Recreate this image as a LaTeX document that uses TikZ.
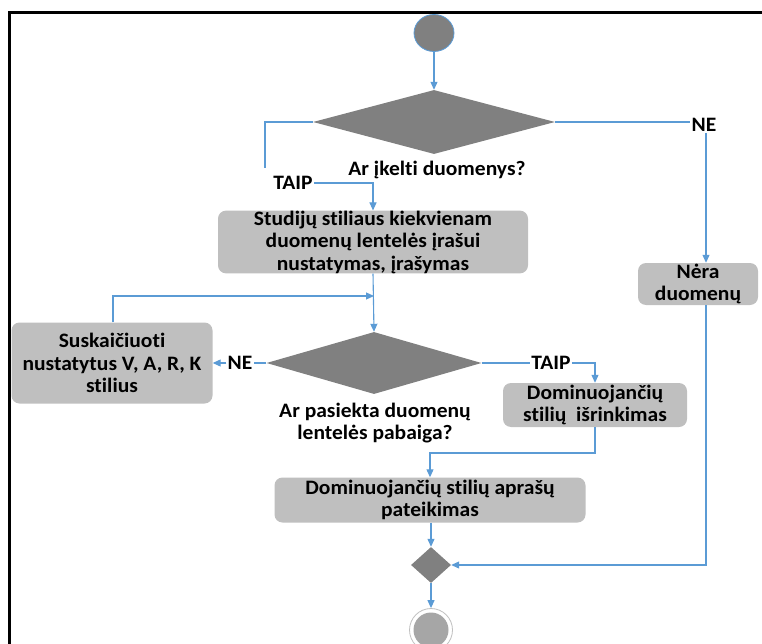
\documentclass[tikz,border=0pt]{standalone}
\usepackage{fontspec}
\setmainfont{Carlito}[FakeStretch=1.05, Ligatures=NoCommon]
\usetikzlibrary{shapes.geometric,arrows.meta}
\definecolor{flow}{HTML}{5B9BD5}
\definecolor{boxgray}{HTML}{BFBFBF}
\definecolor{darkgray}{HTML}{808080}
\definecolor{endgray}{HTML}{A6A6A6}
\begin{document}
\begin{tikzpicture}[x=1pt,y=-1pt,
  every node/.style={font=\fontsize{20.5}{22.5}\selectfont\bfseries, inner sep=0pt, align=center},
  actbox/.style={rectangle, rounded corners=8pt, fill=boxgray},
  decision/.style={diamond, fill=darkgray},
  lbl/.style={fill=white, inner sep=1pt},
  conn/.style={draw=flow, line width=1.1pt},
  arr/.style={conn, -{Triangle[length=8pt,width=7pt]}}
]
\useasboundingbox (0,0) rectangle (762,644);

% frame
\draw[line width=3pt] (9,644) -- (9,13) -- (762,13);

% nodes
\node[ellipse, fill=darkgray, draw=flow, line width=0.8pt, minimum width=40pt, minimum height=37pt] (start) at (434,33) {};
\node[decision, minimum width=242pt, minimum height=64pt] (d1) at (434,122) {};
\node (q1) at (437,170) {Ar įkelti duomenys?};
\node[lbl] (taip1) at (293,183) {TAIP};
\node[lbl] (ne1) at (704,125) {NE};
\node[actbox, minimum width=310pt, minimum height=62pt] (box1) at (373,242) {Studijų stiliaus kiekvienam\\duomenų lentelės įrašui\\nustatymas, įrašymas};
\node[actbox, minimum width=120pt, minimum height=42pt] (nera) at (698,284) {Nėra\\duomenų};
\node[decision, minimum width=215pt, minimum height=62pt] (d2) at (374,363) {};
\node (q2) at (375,423) {Ar pasiekta duomenų\\lentelės pabaiga?};
\node[actbox, minimum width=201pt, minimum height=81pt] (sus) at (112,363) {Suskaičiuoti\\nustatytus V, A, R, K\\stilius};
\node[lbl] (ne2) at (240,363) {NE};
\node[lbl] (taip2) at (551,363) {TAIP};
\node[actbox, minimum width=184pt, minimum height=44pt] (dom1) at (595,405) {Dominuojančių\\stilių\ \ išrinkimas};
\node[actbox, minimum width=311pt, minimum height=45pt] (dom2) at (430,500) {Dominuojančių stilių aprašų\\pateikimas};
\node[decision, minimum width=40pt, minimum height=36pt] (d3) at (431,565) {};
\node[circle, draw=boxgray, line width=0.8pt, fill=white, minimum size=43pt] (finish) at (431,630) {};
\node[circle, fill=endgray, minimum size=35pt] at (finish.center) {};

% helper points
\coordinate (c1) at (265,168);
\coordinate (c2) at (113,296);
\coordinate (c3) at (374,296);
\coordinate (c4) at (595,453);
\coordinate (c5) at (430,453);
\coordinate (c6) at (706,565);

% connectors
\draw[arr] (start) -- (d1.north);
\draw[conn] (d1.west) -| (c1);
\draw[arr] (taip1.east) -| (box1.north);
\draw[conn] (d1.east) -- (d1.east -| ne1.west);
\draw[arr] (ne1.south -| c6) -- (nera.north -| c6);
\draw[arr] (box1.south) -- (d2.north);
\draw[arr] (sus.north -| c2) -- (c2) -- (c3);
\draw[conn] (d2.west) -- (ne2.east);
\draw[arr] (ne2.west) -- (sus.east);
\draw[conn] (d2.east) -- (taip2.west);
\draw[arr] (taip2.east) -| (dom1.north);
\draw[arr] (dom1.south) -- (c4) -- (c5) -- (dom2.north -| c5);
\draw[arr] (dom2.south -| d3) -- (d3.north);
\draw[arr] (nera.south -| c6) -- (c6) -- (d3.east);
\draw[arr] (d3.south) -- (finish.north);
\end{tikzpicture}
\end{document}
